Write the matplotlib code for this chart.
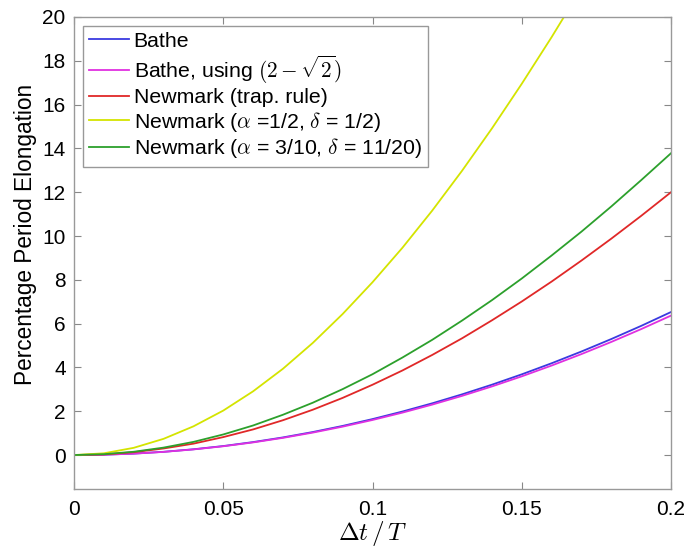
import matplotlib
matplotlib.use("Agg")
import matplotlib.pyplot as plt

plt.rcParams['font.family'] = ['Liberation Sans', 'DejaVu Sans']
plt.rcParams['mathtext.fontset'] = 'cm'

# Δt/T sample points
dt_T = [0.00, 0.01, 0.02, 0.03, 0.04, 0.05, 0.06, 0.07, 0.08, 0.09, 0.10,
        0.11, 0.12, 0.13, 0.14, 0.15, 0.16, 0.17, 0.18, 0.19, 0.20]

bathe = [0, 0.016, 0.066, 0.148, 0.263, 0.411, 0.592, 0.805, 1.051, 1.330, 1.642,
         1.986, 2.362, 2.771, 3.212, 3.685, 4.191, 4.728, 5.297, 5.897, 6.530]
bathe_sqrt2 = [0, 0.016, 0.064, 0.144, 0.257, 0.401, 0.577, 0.785, 1.025, 1.297, 1.601,
               1.936, 2.303, 2.702, 3.132, 3.593, 4.086, 4.610, 5.165, 5.750, 6.367]
newmark_trap = [0, 0.03, 0.13, 0.30, 0.52, 0.82, 1.17, 1.59, 2.07, 2.61, 3.21,
                3.86, 4.57, 5.33, 6.15, 7.01, 7.92, 8.88, 9.88, 10.92, 12.00]
newmark_half = [0, 0.08, 0.33, 0.74, 1.31, 2.03, 2.91, 3.94, 5.12, 6.44, 7.89,
                9.46, 11.16, 12.98, 14.91, 16.95, 19.08, 21.31, 23.63, 26.03, 28.51]
newmark_310 = [0, 0.04, 0.15, 0.34, 0.60, 0.94, 1.35, 1.84, 2.39, 3.01, 3.69,
               4.45, 5.26, 6.14, 7.07, 8.06, 9.11, 10.20, 11.35, 12.55, 13.78]

labels = ["Bathe",
          r"Bathe, using $(2-\sqrt{2})$",
          "Newmark (trap. rule)",
          r"Newmark ($\alpha$ =1/2, $\delta$ = 1/2)",
          r"Newmark ($\alpha$ = 3/10, $\delta$ = 11/20)"]
colors = ["#3a3ae0", "#e030e0", "#e02828", "#d4e400", "#2ca02c"]

x_ticks = [0, 0.05, 0.1, 0.15, 0.2]
x_ticklabels = ["0", "0.05", "0.1", "0.15", "0.2"]
y_ticks = [0, 2, 4, 6, 8, 10, 12, 14, 16, 18, 20]

fig = plt.figure(figsize=(6.94, 5.47), dpi=100)
ax = fig.add_axes([74/694, 1-489/547, (671-74)/694, (489-17)/547])

series = [bathe, bathe_sqrt2, newmark_trap, newmark_half, newmark_310]
for ys, lab, c in zip(series, labels, colors):
    ax.plot(dt_T, ys, color=c, lw=1.3, label=lab)

ax.set_xlim(0, 0.2)
ax.set_ylim(-1.55, 20)
ax.set_xticks(x_ticks)
ax.set_xticklabels(x_ticklabels)
ax.set_yticks(y_ticks)
ax.tick_params(direction='in', top=True, right=True, length=5, width=0.8,
               color='#888888', labelsize=15)
ax.tick_params(axis='x', pad=8)
ax.tick_params(axis='y', pad=6)
for s in ax.spines.values():
    s.set_color('#999999')
    s.set_linewidth(1.0)

ax.set_ylabel("Percentage Period Elongation", fontsize=16.3)
ax.yaxis.set_label_coords(-0.062, 0.54)
ax.set_xlabel(r"$\Delta t\,/\,T$", fontsize=18, labelpad=0)

leg = ax.legend(loc='upper left', fontsize=15.3, frameon=True, fancybox=False,
                edgecolor='#999999', framealpha=1, handlelength=1.9,
                handletextpad=0.2, labelspacing=0.12, borderpad=0.3,
                borderaxespad=0.4)
leg.get_frame().set_linewidth(1.0)

fig.savefig("out.png", dpi=100)
